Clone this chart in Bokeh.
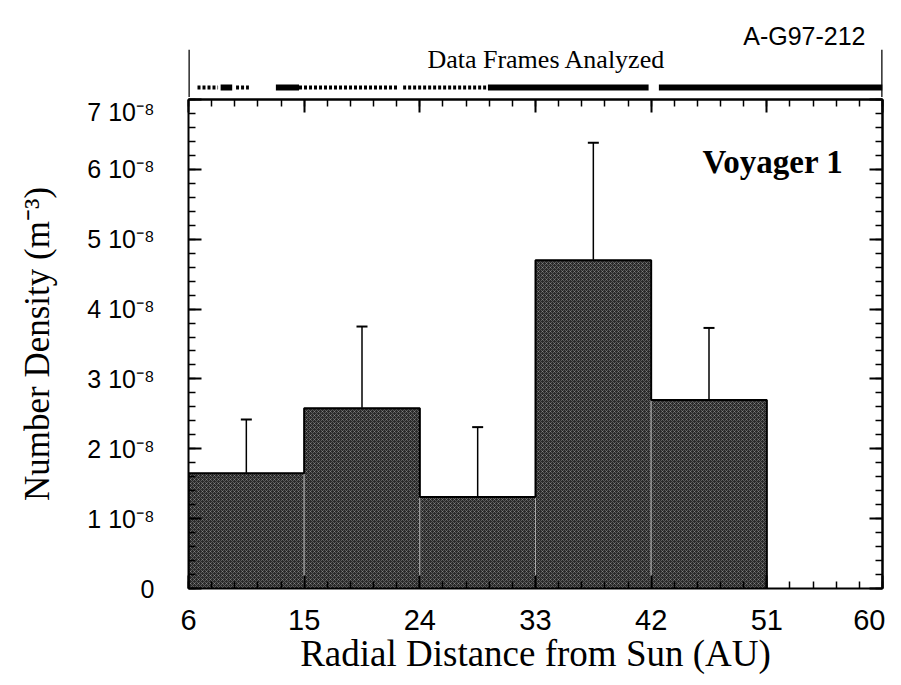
import numpy as np
from bokeh.plotting import figure
from bokeh.models import (Range1d, LinearAxis, FixedTicker, Whisker, TeeHead,
                          ColumnDataSource, Label, Span)
from bokeh.layouts import column
from bokeh.embed import file_html
from bokeh.resources import INLINE

# ---------------- data ----------------
bin_left = [6, 15, 24, 33, 42]
bin_right = [15, 24, 33, 42, 51]
density_1e8 = [1.65, 2.58, 1.31, 4.70, 2.70]      # number density, units of 1e-8 m^-3
density_err_1e8 = [0.77, 1.17, 1.00, 1.68, 1.03]  # 1-sigma error, units of 1e-8 m^-3

x_ticks = [6, 15, 24, 33, 42, 51, 60]
y_ticks = [0, 1, 2, 3, 4, 5, 6, 7]
y_tick_labels = ["0", "1 10\u207b\u2078", "2 10\u207b\u2078", "3 10\u207b\u2078",
                 "4 10\u207b\u2078", "5 10\u207b\u2078", "6 10\u207b\u2078", "7 10\u207b\u2078"]

# data frames analyzed (AU intervals)
frames_dense_start = [8.5, 12.8, 29.3, 42.6]
frames_dense_end = [9.4, 14.6, 41.8, 60.0]
frames_sparse_start = [6.7, 9.7, 14.6, 22.7]
frames_sparse_end = [8.3, 10.7, 22.3, 29.3]

x_lo, x_hi = x_ticks[0], x_ticks[-1]
y_lo, y_hi = y_ticks[0], y_ticks[-1]
x_minor = list(np.arange(x_lo, x_hi + 0.01, 1.8))
y_minor = list(np.arange(y_lo, y_hi + 0.01, 0.2))

SERIF = "Liberation Serif"
SANS = "Liberation Sans"

FIG_W = 885
LEFT_B = 188
RIGHT_B = 3

# ---------------- top panel ----------------
top = figure(width=FIG_W, height=97, x_range=Range1d(x_lo, x_hi), y_range=Range1d(0, 1),
             output_backend="svg", toolbar_location=None,
             x_axis_location=None, y_axis_location=None,
             min_border_left=LEFT_B, min_border_right=RIGHT_B,
             min_border_top=49, min_border_bottom=0,
             title="A-G97-212")
top.grid.visible = False
top.outline_line_color = None
top.title.align = "right"
top.title.text_font = SANS
top.title.text_font_size = "25px"
top.title.text_font_style = "normal"
top.title.text_color = "black"
top.title.standoff = 0
top.title.offset = 17

for xv in (x_lo, x_hi):
    top.add_layout(Span(location=xv, dimension="height", line_color="black", line_width=2.5))

top.add_layout(Label(x=(x_lo + x_hi) / 2, y=0.8, x_offset=11, text="Data Frames Analyzed",
                     text_font=SERIF, text_font_size="26px", text_align="center",
                     text_baseline="middle", text_color="black"))

band_y = 0.21
top.segment(x0=frames_dense_start, x1=frames_dense_end, y0=band_y, y1=band_y,
            line_color="black", line_width=6)
top.segment(x0=frames_sparse_start, x1=frames_sparse_end, y0=band_y, y1=band_y,
            line_color="black", line_width=4, line_dash="3 2")

# ---------------- main panel ----------------
p = figure(width=FIG_W, height=579, x_range=Range1d(x_lo, x_hi), y_range=Range1d(y_lo, y_hi),
           output_backend="svg", toolbar_location=None,
           x_axis_location=None, y_axis_location=None,
           min_border_left=LEFT_B, min_border_right=RIGHT_B,
           min_border_top=2, min_border_bottom=10)
p.grid.visible = False
p.outline_line_color = None


def style_axis(ax, tick_in=13, minor_in=7):
    ax.axis_line_color = "black"
    ax.axis_line_width = 2
    ax.major_tick_in = tick_in
    ax.major_tick_out = 0
    ax.minor_tick_in = minor_in
    ax.minor_tick_out = 0
    ax.major_tick_line_width = 2
    ax.minor_tick_line_width = 1.5
    ax.major_tick_line_color = "black"
    ax.minor_tick_line_color = "black"


# labelled axes
below = LinearAxis(ticker=FixedTicker(ticks=x_ticks, minor_ticks=x_minor),
                   axis_label="Radial Distance from Sun (AU)")
style_axis(below)
below.major_label_text_font = SANS
below.major_label_text_font_size = "29px"
below.major_label_text_color = "black"
below.major_label_standoff = 21
below.axis_label_text_font = SERIF
below.axis_label_text_font_size = "37px"
below.axis_label_text_font_style = "normal"
below.axis_label_text_color = "black"
below.axis_label_standoff = 0
p.add_layout(below, "below")

left = LinearAxis(ticker=FixedTicker(ticks=y_ticks, minor_ticks=y_minor),
                  axis_label="Number Density (m\u207b\u00b3)")
style_axis(left)
left.major_label_overrides = {k: v for k, v in zip(y_ticks, y_tick_labels)}
left.major_label_text_font = SANS
left.major_label_text_font_size = "25px"
left.major_label_text_color = "black"
left.major_label_standoff = 34
left.axis_label_text_font = SERIF
left.axis_label_text_font_size = "35px"
left.axis_label_text_font_style = "normal"
left.axis_label_text_color = "black"
left.axis_label_standoff = 27
p.add_layout(left, "left")

# unlabelled mirror axes (tick marks only): minor-length ticks and major-length ticks
for side, minor_pos, major_pos in (("above", x_minor, x_ticks), ("right", y_minor, y_ticks)):
    ax_minor = LinearAxis(ticker=FixedTicker(ticks=[], minor_ticks=minor_pos))
    style_axis(ax_minor, tick_in=0, minor_in=7)
    ax_minor.major_label_standoff = 0
    p.add_layout(ax_minor, side)
    ax_major = LinearAxis(ticker=FixedTicker(ticks=[], minor_ticks=major_pos))
    style_axis(ax_major, tick_in=0, minor_in=13)
    ax_major.minor_tick_line_width = 2
    ax_major.major_label_standoff = 0
    p.add_layout(ax_major, side)

# histogram bars
p.quad(left=bin_left, right=bin_right, bottom=0, top=density_1e8,
       fill_color="#2a2a2a", line_color="#a8a8a8", line_width=1,
       hatch_pattern="diagonal_cross", hatch_color="white", hatch_alpha=0.3,
       hatch_scale=4, hatch_weight=0.8)

step_x = [bin_left[0]] + bin_left + [bin_right[-1]]
step_y = [0] + density_1e8 + [0]
p.step(x=step_x, y=step_y, mode="after", line_color="black", line_width=2)

centers = [(a + b) / 2 for a, b in zip(bin_left, bin_right)]
src = ColumnDataSource(dict(
    x=centers,
    top=density_1e8,
    hi=[d + e for d, e in zip(density_1e8, density_err_1e8)],
    lo=[d - e for d, e in zip(density_1e8, density_err_1e8)],
))
p.add_layout(Whisker(source=src, base="x", upper="hi", lower="top", dimension="height",
                     line_color="black", line_width=1.5,
                     upper_head=TeeHead(size=11, line_color="black", line_width=2),
                     lower_head=None))
p.add_layout(Whisker(source=src, base="x", upper="top", lower="lo", dimension="height",
                     line_color="white", line_width=1.5,
                     lower_head=TeeHead(size=9, line_color="white", line_width=1.5),
                     upper_head=None))

p.add_layout(Label(x=57.6, y=6.1, text="Voyager  1", text_font=SERIF,
                   text_font_size="33px", text_font_style="bold", text_align="right",
                   text_baseline="middle", text_color="black"))

layout = column(top, p, spacing=0)
open("out.html", "w").write(file_html(layout, INLINE))
